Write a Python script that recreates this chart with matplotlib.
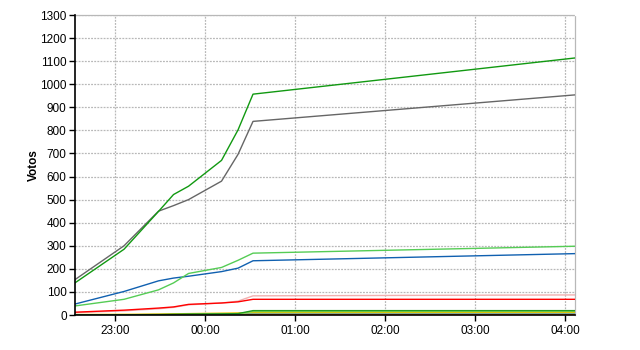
import matplotlib
matplotlib.use('Agg')
import matplotlib.pyplot as plt

# sample times (HH:MM), after midnight wraps to next day
times = ['22:33', '23:06', '23:29', '23:39', '23:49', '00:11', '00:22', '00:32', '04:07']

# vote counts per series
green_dark = [138, 285, 449, 522, 558, 670, 802, 957, 1114]
grey = [152, 300, 450, 474, 500, 580, 696, 839, 954]
green_light = [39, 68, 109, 139, 180, 206, 237, 268, 298]
blue = [47, 102, 148, 160, 168, 188, 203, 235, 266]
pink = [10, 18, 27, 33, 44, 52, 60, 83, 87]
red = [12, 21, 30, 35, 46, 52, 57, 68, 68]
small_green = [0, 1, 2, 3, 4, 5, 6, 19, 19]
small_lgreen = [0, 0, 1, 2, 3, 4, 5, 15, 16]
small_yellow = [2, 3, 4, 5, 6, 8, 9, 11, 12]
small_teal = [0, 1, 1, 2, 2, 3, 4, 8, 8]
small_orange = [1, 1, 2, 2, 3, 3, 4, 4, 4]
small_dred = [0, 0, 0, 0, 1, 1, 1, 2, 2]

tick_labels = ['23:00', '00:00', '01:00', '02:00', '03:00', '04:00']


def to_min(t):
    # minutes relative to 23:00
    h, m = map(int, t.split(':'))
    if h < 12:
        h += 24
    return (h - 23) * 60 + m


x = [to_min(t) for t in times]

plt.rcParams['font.family'] = ['Liberation Sans', 'DejaVu Sans']
fig = plt.figure(figsize=(6.4, 3.5), dpi=100)
ax = fig.add_axes([75/640, 35/350, 500/640, 300/350])

series = [
    (small_dred, '#990000'),
    (small_orange, '#ff8000'),
    (small_teal, '#66aaaa'),
    (small_yellow, '#e6c200'),
    (small_lgreen, '#88dd55'),
    (small_green, '#229922'),
    (pink, '#f0b0b0'),
    (red, '#ff0000'),
    (blue, '#1060b0'),
    (green_light, '#55cc55'),
    (grey, '#666666'),
    (green_dark, '#119911'),
]
for vals, col in series:
    ax.plot(x, vals, color=col, lw=1.0, zorder=3)

ax.set_xlim(-26.7, 306.7)
ax.set_ylim(0, 1300)
ax.set_yticks(range(0, 1301, 100))
ax.set_xticks([0, 60, 120, 180, 240, 300])
ax.set_xticklabels(tick_labels)
ax.tick_params(labelsize=8.5, length=4, width=1, direction='out', pad=2)
ax.tick_params(axis='x', pad=3)

ax.grid(True, color='#b8b8b8', linestyle=(0, (1.5, 1)), lw=0.9, zorder=1)
for s in ['top', 'right']:
    ax.spines[s].set_color('#b8b8b8')
    ax.spines[s].set_linestyle((0, (1.5, 1)))
    ax.spines[s].set_linewidth(0.9)
for s in ['left', 'bottom']:
    ax.spines[s].set_linewidth(1.2)
    ax.spines[s].set_zorder(4)

ax.set_ylabel('Votos', fontsize=8.5, fontweight='bold', labelpad=0)

fig.savefig('out.png', dpi=100)
